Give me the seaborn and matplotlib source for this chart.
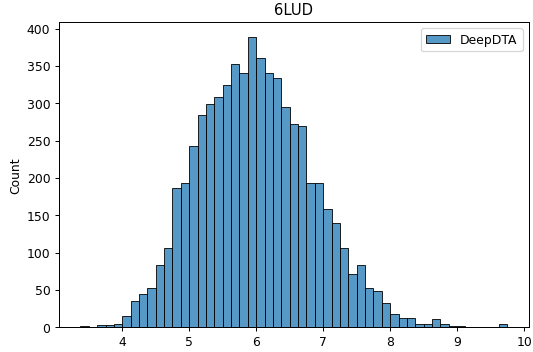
import numpy as np
import pandas as pd
import seaborn as sns
import matplotlib

matplotlib.use("Agg")
import matplotlib.pyplot as plt

# bin range of the predicted affinities and the count in each bin
bin_lo = 3.378
bin_hi = 9.748
counts = [
    2, 0, 3, 3, 5, 15, 35, 44, 52, 84,
    106, 186, 193, 243, 284, 299, 308, 325, 353, 340,
    389, 361, 340, 334, 295, 272, 270, 193, 193, 158,
    139, 106, 71, 83, 52, 49, 32, 18, 13, 13,
    5, 5, 11, 5, 2, 2, 1, 1, 1, 0,
    4,
]
title = "6LUD"
series_label = "DeepDTA"

edges = np.linspace(bin_lo, bin_hi, len(counts) + 1)
df = pd.DataFrame({
    "value": (edges[:-1] + edges[1:]) / 2,
    "count": counts,
})

dpi = 88.84
fig = plt.figure(figsize=(533.4 / dpi, 352.4 / dpi), dpi=dpi)
ax = fig.add_axes([0.1107, 0.0702, 0.9912 - 0.1107, 0.9355 - 0.0702])

sns.histplot(data=df, x="value", weights="count", bins=edges.tolist(),
             label=series_label, ax=ax)
ax.set_title(title)
ax.set_xlabel("")
ax.set_ylabel("Count")
ax.legend(loc="upper right")

fig.savefig("out.png", dpi=dpi)
